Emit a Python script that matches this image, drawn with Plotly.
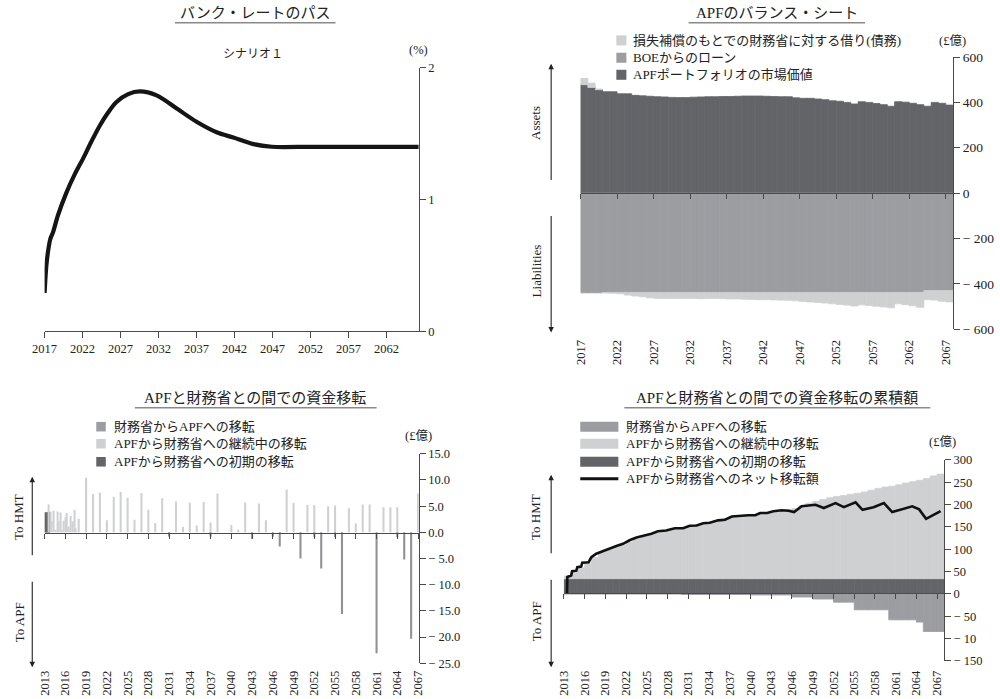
import plotly.graph_objects as go

W, H = 1000, 699
# screen-space -> layout-space calibration, measured with a test frame
HOFF, HSCALE = 12.5, 0.979
VOFF, VSCALE = 8.4, 0.976
def PX(x): return ((x - HOFF) / HSCALE) / W
def PY(y): return 1 - ((y - VOFF) / VSCALE) / H

FONT = "Liberation Serif, Noto Sans CJK JP, serif"
TXT = "#222222"
AX = "#4a4a4a"
LIGHT = "#cfd0d2"
MED = "#9c9da1"
DARK = "#636468"

# ---------------- data: bank rate path (%)
bank_year = [2017.0, 2017.22, 2017.44, 2017.75, 2018.1, 2018.76, 2019.86, 2020.96, 2022.06,
             2023.16, 2024.26, 2025.36, 2026.46, 2028.0, 2029.55, 2031.75, 2034.4, 2037.0,
             2039.65, 2041.85, 2044.5, 2046.9, 2052.0, 2057.0, 2062.0, 2066.25]
bank_rate = [0.29, 0.49, 0.60, 0.70, 0.75, 0.88, 1.05, 1.19, 1.31,
             1.44, 1.56, 1.66, 1.74, 1.80, 1.82, 1.79, 1.69, 1.59,
             1.51, 1.47, 1.42, 1.40, 1.40, 1.40, 1.40, 1.40]
bank_ticks = [2017, 2022, 2027, 2032, 2037, 2042, 2047, 2052, 2057, 2062]

# ---------------- data: APF balance sheet (£億), yearly 2017..2067
bs_year = [2017, 2018, 2019, 2020, 2021, 2022, 2023, 2024, 2025, 2026,
           2027, 2028, 2029, 2030, 2031, 2032, 2033, 2034, 2035, 2036,
           2037, 2038, 2039, 2040, 2041, 2042, 2043, 2044, 2045, 2046,
           2047, 2048, 2049, 2050, 2051, 2052, 2053, 2054, 2055, 2056,
           2057, 2058, 2059, 2060, 2061, 2062, 2063, 2064, 2065, 2066, 2067]
bs_portfolio = [478, 466, 456, 447, 447, 438, 438, 431, 429, 427,
                425, 424, 422, 421, 421, 423, 424, 425, 425, 426,
                426, 427, 428, 428, 428, 427, 426, 425, 425, 420,
                418, 418, 415, 412, 407, 405, 400, 393, 403, 400,
                395, 390, 383, 403, 401, 396, 390, 383, 400, 396, 388]
bs_boe_loan = [-440, -440, -440, -438, -438, -438, -438, -438, -438, -438,
               -438, -438, -438, -438, -438, -438, -438, -438, -438, -438,
               -438, -438, -438, -438, -438, -438, -438, -438, -438, -438,
               -438, -438, -438, -438, -438, -438, -438, -438, -438, -438,
               -438, -438, -438, -438, -438, -438, -438, -430, -430, -430, -430]
bs_indemnity = [28, 19, 3, -3, -4, -6, -12, -16, -19, -24,
                -26, -27, -27, -27, -26, -27, -28, -27, -27, -28,
                -29, -29, -30, -31, -32, -32, -33, -34, -35, -37,
                -40, -42, -44, -47, -50, -53, -56, -60, -55, -58,
                -61, -64, -68, -50, -54, -59, -66, -40, -42, -47, -50]
bs_ticks = [2017, 2022, 2027, 2032, 2037, 2042, 2047, 2052, 2057, 2062, 2067]

# ---------------- data: annual transfers between APF and HMT (£億)
tr_initial_x = [2013.125, 2013.375, 2013.625]
tr_initial = [3.8, 3.8, 3.8]
tr_cont_q_x = [2013.58, 2013.87, 2014.06, 2014.26, 2014.55, 2014.84, 2015.03, 2015.32, 2015.51,
               2015.80, 2016.04, 2016.24, 2016.48, 2016.77, 2017.01, 2017.30, 2017.50, 2017.98]
tr_cont_q = [5.3, 4.0, 2.1, 4.1, 0.5, 4.0, 2.1, 3.8, 0.4,
             2.2, 2.9, 3.7, 1.1, 3.1, 2.1, 4.3, 0.8, 2.6]
tr_cont_y_x = [2019, 2020, 2021, 2022, 2023, 2024, 2025, 2026, 2027, 2028, 2029, 2030,
               2032, 2033, 2034, 2035, 2036, 2037, 2038, 2040, 2041, 2042, 2044, 2045,
               2048, 2049, 2051, 2052, 2054, 2055, 2057, 2058, 2059, 2060, 2062, 2063, 2064, 2067]
tr_cont_y = [10.4, 7.3, 7.6, 2.3, 6.8, 7.7, 6.6, 2.4, 7.5, 4.3, 1.8, 6.5,
             5.9, 1.0, 5.7, 1.3, 5.8, 1.9, 7.4, 1.4, 0.5, 5.7, 5.5, 2.3,
             8.2, 5.6, 5.2, 5.2, 5.0, 5.1, 4.6, 1.7, 5.3, 5.3, 4.8, 4.8, 4.8, 7.4]
tr_hmt_x = [2031, 2037, 2043, 2046, 2047, 2050, 2052, 2053, 2055, 2056, 2061, 2064, 2065, 2066]
tr_hmt = [-0.8, -0.8, -1.2, -0.8, -2.7, -5.0, -0.9, -6.9, -0.9, -15.6, -23.1, -0.9, -5.2, -20.3]
tr_ticks = [2013, 2016, 2019, 2022, 2025, 2028, 2031, 2034, 2037, 2040, 2043, 2046, 2049,
            2052, 2055, 2058, 2061, 2064, 2067]

# ---------------- data: cumulative transfers (£億), yearly 2013..2067
cum_year = [2013, 2014, 2015, 2016, 2017, 2018, 2019, 2020, 2021, 2022, 2023,
            2024, 2025, 2026, 2027, 2028, 2029, 2030, 2031, 2032, 2033, 2034,
            2035, 2036, 2037, 2038, 2039, 2040, 2041, 2042, 2043, 2044, 2045,
            2046, 2047, 2048, 2049, 2050, 2051, 2052, 2053, 2054, 2055, 2056,
            2057, 2058, 2059, 2060, 2061, 2062, 2063, 2064, 2065, 2066, 2067]
cum_initial = [34, 34, 34, 34, 34, 34, 34, 34, 34, 34, 34,
               34, 34, 34, 34, 34, 34, 34, 34, 34, 34, 34,
               34, 34, 34, 34, 34, 34, 34, 34, 34, 34, 34,
               34, 34, 34, 34, 34, 34, 34, 34, 34, 34, 34,
               34, 34, 34, 34, 34, 34, 34, 34, 34, 34, 34]
cum_continuing = [6, 16, 24, 34, 48, 58, 64, 70, 75, 82, 89,
                  94, 99, 104, 107, 111, 113, 115, 119, 121, 124, 127,
                  131, 135, 139, 141, 142, 143, 146, 148, 151, 153, 155,
                  157, 163, 169, 173, 177, 181, 184, 186, 189, 191, 194,
                  198, 202, 205, 207, 210, 214, 217, 220, 224, 230, 234]
cum_hmt = [0, 0, 0, 0, 0, 0, 0, 0, 0, 0, 0,
           0, 0, 0, 0, 0, 0, -1, -1, -1, -1, -1,
           -1, -1, -1, -1, -1, -2.5, -2.5, -2.5, -2.5, -2.5, -2.5,
           -7, -7, -7, -11.5, -11.5, -11.5, -18.5, -18.5, -18.5, -35.5, -35.5,
           -35.5, -35.5, -35.5, -58, -58, -58, -58, -63, -84, -84, -84]
net_year = [2013.45, 2013.5, 2014.06, 2014.2, 2014.8, 2014.94, 2015.5, 2015.66, 2016.58, 2016.97,
            2017.69, 2018.66, 2019.63, 2020.6, 2021.56, 2022.5, 2023.5, 2024.7, 2025.66, 2026.6,
            2027.8, 2029.05, 2030.26, 2031.2, 2032.2, 2033.15, 2034.1, 2035.3, 2036.3, 2037.3,
            2038.5, 2039.7, 2040.67, 2041.4, 2042.4, 2043.3, 2044.5, 2045.5, 2046.3, 2047.4,
            2049.4, 2050.6, 2052.3, 2053.5, 2055.2, 2056.2, 2057.8, 2059.3, 2060.5, 2062.2,
            2063.4, 2064.4, 2065.4, 2067.5]
net_value = [0, 38, 41, 51, 52, 60, 61, 70, 71, 82,
             90, 96, 102, 107, 112, 120, 126, 130, 134.5, 140,
             142, 147, 147, 152.5, 153, 158, 159, 164.5, 166, 173,
             175, 176, 176, 181, 181, 185, 187, 186, 183, 196,
             199.5, 192, 203, 194, 205, 188, 194, 203, 183, 190,
             196, 189, 168, 185]
cum_ticks = tr_ticks

# ---------------- figure
fig = go.Figure()

fig.add_trace(go.Scatter(x=bank_year, y=bank_rate, mode="lines",
                         line=dict(color="#151515", width=4.2, shape="spline", smoothing=0.9),
                         xaxis="x", yaxis="y", hoverinfo="skip", showlegend=False))

def nz(a):
    return [v if v != 0 else None for v in a]

bs_x = [y + 0.5 for y in bs_year]
for vals, col in [(bs_portfolio, DARK), (bs_boe_loan, MED), (nz(bs_indemnity), LIGHT)]:
    fig.add_trace(go.Bar(x=bs_x, y=vals, width=1, marker=dict(color=col, line=dict(width=0.8, color=col)),
                         xaxis="x2", yaxis="y2", hoverinfo="skip", showlegend=False))

fig.add_trace(go.Bar(x=tr_initial_x, y=tr_initial, width=0.25, marker=dict(color=DARK, line=dict(width=0.5, color=DARK)),
                     xaxis="x3", yaxis="y3", hoverinfo="skip", showlegend=False))
fig.add_trace(go.Bar(x=tr_cont_q_x, y=tr_cont_q, width=0.2, marker=dict(color=LIGHT, line=dict(width=0)),
                     xaxis="x3", yaxis="y3", hoverinfo="skip", showlegend=False))
fig.add_trace(go.Bar(x=tr_cont_y_x, y=tr_cont_y, width=0.3, marker=dict(color=LIGHT, line=dict(width=0)),
                     xaxis="x3", yaxis="y3", hoverinfo="skip", showlegend=False))
fig.add_trace(go.Bar(x=tr_hmt_x, y=tr_hmt, width=0.3, marker=dict(color="#909195", line=dict(width=0)),
                     xaxis="x3", yaxis="y3", hoverinfo="skip", showlegend=False))

cum_x = [y + 0.5 for y in cum_year]
for vals, col in [(cum_initial, DARK), (nz(cum_continuing), LIGHT), (nz(cum_hmt), MED)]:
    fig.add_trace(go.Bar(x=cum_x, y=vals, width=1, marker=dict(color=col, line=dict(width=0.8, color=col)),
                         xaxis="x4", yaxis="y4", hoverinfo="skip", showlegend=False))
fig.add_trace(go.Scatter(x=net_year, y=net_value, mode="lines", line=dict(color="#111111", width=2.6),
                         xaxis="x4", yaxis="y4", hoverinfo="skip", showlegend=False))

# dummy traces for label axes
for xa, ya, xv in [("x5", "y2", 2017), ("x6", "y3", 2013), ("x7", "y4", 2013)]:
    fig.add_trace(go.Scatter(x=[xv], y=[0], mode="markers", marker=dict(opacity=0, size=1),
                             xaxis=xa, yaxis=ya, hoverinfo="skip", showlegend=False))

tf = dict(family=FONT, size=12.5, color=TXT)
tf_big = dict(family=FONT, size=13.5, color=TXT)

def xline(**kw):
    d = dict(showline=True, linecolor=AX, linewidth=1, ticks="outside", ticklen=5, tickcolor=AX,
             tickwidth=1, showgrid=False, zeroline=False, tickfont=tf, fixedrange=True)
    d.update(kw)
    return d

def xlab(**kw):
    d = dict(showline=False, ticks="", showgrid=False, zeroline=False, tickangle=-90,
             tickfont=tf, fixedrange=True)
    d.update(kw)
    return d

def yax(**kw):
    d = dict(side="right", showline=True, linecolor=AX, linewidth=1, ticks="outside", ticklen=6,
             tickcolor=AX, tickwidth=1, showgrid=False, zeroline=False, tickfont=tf, fixedrange=True)
    d.update(kw)
    return d

fig.update_layout(
    width=W, height=H, margin=dict(l=0, r=0, t=0, b=0),
    paper_bgcolor="white", plot_bgcolor="white",
    barmode="relative", showlegend=False,
    font=dict(family=FONT, color=TXT),
    xaxis=xline(domain=[PX(45), PX(418)], range=[2017, 2066.25], anchor="y",
                tickvals=bank_ticks, ticklen=6),
    yaxis=yax(domain=[PY(331.7), PY(69)], range=[0, 2], anchor="x", tickvals=[0, 1, 2]),
    xaxis2=xline(domain=[PX(579.3), PX(950.7)], range=[2017, 2068], anchor="free",
                 position=PY(194), tickvals=bs_ticks, showticklabels=False),
    xaxis5=xlab(overlaying="x2", range=[2017, 2068], anchor="free", position=PY(337),
                tickvals=bs_ticks),
    yaxis2=yax(domain=[PY(329.7), PY(58.3)], range=[-600, 600], anchor="x2",
               tickvals=[600, 400, 200, 0, -200, -400, -600],
               ticktext=["600", "400", "200", "0", "− 200", "− 400", "− 600"], tickfont=tf_big),
    xaxis3=xline(domain=[PX(45), PX(418)], range=[2013, 2067.1], anchor="free",
                 position=PY(532.7), tickvals=tr_ticks, showticklabels=False),
    xaxis6=xlab(overlaying="x3", range=[2013, 2067.1], anchor="free", position=PY(667),
                tickvals=tr_ticks),
    yaxis3=yax(domain=[PY(663), PY(454)], range=[-25, 15], anchor="x3",
               tickvals=[15, 10, 5, 0, -5, -10, -15, -20, -25],
               ticktext=["15.0", "10.0", "5.0", "0.0", "− 5.0", "− 10.0", "− 15.0", "− 20.0", "− 25.0"]),
    xaxis4=xline(domain=[PX(562.7), PX(941.7)], range=[2013, 2068], anchor="free",
                 position=PY(593.3), tickvals=cum_ticks, showticklabels=False),
    xaxis7=xlab(overlaying="x4", range=[2013, 2068], anchor="free", position=PY(667),
                tickvals=cum_ticks),
    yaxis4=yax(domain=[PY(660.7), PY(460)], range=[-150, 300], anchor="x4",
               tickvals=[300, 250, 200, 150, 100, 50, 0, -50, -100, -150],
               ticktext=["300", "250", "200", "150", "100", "50", "0", "− 50", "− 10", "− 150"]),
)

ann = []
shapes = []

def text(x, y, s, size=13, xanchor="center", angle=0):
    ann.append(dict(x=PX(x), y=PY(y), xref="paper", yref="paper", text=s, showarrow=False,
                    xanchor=xanchor, yanchor="middle", textangle=angle,
                    font=dict(family=FONT, size=size, color=TXT)))

def arrow(x, y_head, y_tail):
    ann.append(dict(x=PX(x), y=PY(y_head), xref="paper", yref="paper", text="", showarrow=True,
                    ax=0, ay=(y_tail - y_head) / VSCALE, arrowhead=2, arrowsize=1, arrowwidth=1.1,
                    arrowcolor="#222222"))

def hline(x0, x1, y, color="#8a8a8a", width=1.5):
    shapes.append(dict(type="line", xref="paper", yref="paper", x0=PX(x0), x1=PX(x1),
                       y0=PY(y), y1=PY(y), line=dict(color=color, width=width)))

def rect(x0, x1, yc, h, color):
    shapes.append(dict(type="rect", xref="paper", yref="paper", x0=PX(x0), x1=PX(x1),
                       y0=PY(yc + h / 2), y1=PY(yc - h / 2), fillcolor=color, line=dict(width=0)))

# titles
for (cx, cy, s, u0, u1) in [
    (255, 14, "バンク・レートのパス", 175, 335),
    (775, 14, "APFのバランス・シート", 687, 863),
    (255, 398, "APFと財務省との間での資金移転", 135, 376),
    (775, 398, "APFと財務省との間での資金移転の累積額", 623, 928),
]:
    text(cx, cy, s, size=15)
    hline(u0, u1, cy + 10)

# panel 1
text(253, 55, "シナリオ１", size=12)
text(418, 51, "(%)", size=12.5)

# panel 2
for yc, col, s in [(41.7, LIGHT, "損失補償のもとでの財務省に対する借り(債務)"),
                   (59, MED, "BOEからのローン"),
                   (76, DARK, "APFポートフォリオの市場価値")]:
    rect(615, 625, yc, 10, col)
    text(630, yc, s, size=13, xanchor="left")
text(950, 42, "(£億)", size=12.5)
text(535, 124, "Assets", size=13, angle=-90)
arrow(550, 65, 180)
text(535, 272, "Liabilities", size=13, angle=-90)
arrow(550, 333, 218)

# panel 3
for yc, col, s in [(427, MED, "財務省からAPFへの移転"),
                   (444, LIGHT, "APFから財務省への継続中の移転"),
                   (462, DARK, "APFから財務省への初期の移転")]:
    rect(96.5, 106, yc, 9.5, col)
    text(112, yc, s, size=13, xanchor="left")
text(418, 436, "(£億)", size=12.5)
text(19.5, 517, "To HMT", size=13, angle=-90)
arrow(32.7, 477, 555)
text(19.5, 622, "To APF", size=13, angle=-90)
arrow(32.7, 667, 582)

# panel 4
for yc, col, s in [(427, MED, "財務省からAPFへの移転"),
                   (444, LIGHT, "APFから財務省への継続中の移転"),
                   (462, DARK, "APFから財務省への初期の移転")]:
    rect(579, 617, yc, 10, col)
    text(623, yc, s, size=13, xanchor="left")
hline(579, 617, 479, color="#111111", width=3)
text(623, 479, "APFから財務省へのネット移転額", size=13, xanchor="left")
text(940, 442, "(£億)", size=12.5)
text(535, 517, "To HMT", size=13, angle=-90)
arrow(550, 475, 553)
text(535, 621, "To APF", size=13, angle=-90)
arrow(550, 667, 580)

fig.update_layout(annotations=ann, shapes=shapes)
fig.write_html("out.html")
